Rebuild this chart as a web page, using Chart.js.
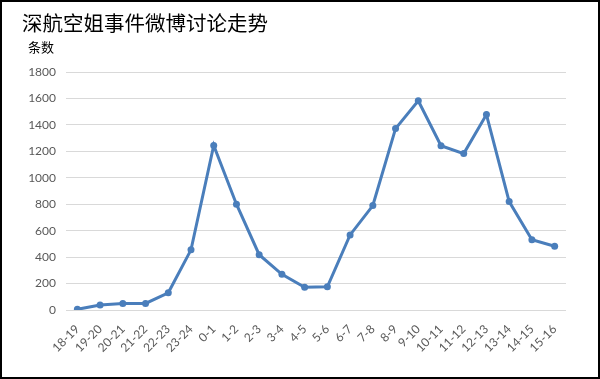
<!DOCTYPE html>
<html>
<head>
<meta charset="utf-8">
<script src="https://cdn.jsdelivr.net/npm/chart.js@4.4.0/dist/chart.umd.min.js"></script>
<style>
  html, body { margin: 0; padding: 0; background: #fff; }
  #wrap { width: 600px; height: 379px; box-sizing: border-box; border: 2px solid #000; position: relative; }
</style>
</head>
<body>
<div id="wrap"><canvas id="trendChart"></canvas></div>
<script>
'use strict';

var hours = ["18-19", "19-20", "20-21", "21-22", "22-23", "23-24", "0-1", "1-2", "2-3", "3-4", "4-5", "5-6",
             "6-7", "7-8", "8-9", "9-10", "10-11", "11-12", "12-13", "13-14", "14-15", "15-16"];
var counts = [5, 38, 50, 50, 130, 455, 1245, 800, 418, 270, 172, 176,
              568, 790, 1372, 1582, 1242, 1183, 1478, 820, 532, 482];
var yTicks = [0, 200, 400, 600, 800, 1000, 1200, 1400, 1600, 1800];

var titleText = '深航空姐事件微博讨论走势';
var unitText = '条数';
var lineBlue = '#4a7ebb';
var tickGrey = '#595959';

// title and unit label sit above the plot, drawn at fixed spots
var headerText = {
    id: 'headerText',
    afterDraw: function (chart) {
        var ctx = chart.ctx;
        ctx.save();
        ctx.fillStyle = '#000';
        ctx.textBaseline = 'middle';
        ctx.textAlign = 'left';
        ctx.font = '20.5px "Noto Sans CJK SC"';
        ctx.fillText(titleText, 20, 21);
        ctx.font = '13px "Noto Sans CJK SC"';
        ctx.fillText(unitText, 26, 45);
        ctx.restore();
    }
};

var trendChart = new Chart(document.getElementById('trendChart'), {
    type: 'line',
    data: {
        labels: hours,
        datasets: [{
            label: unitText,
            data: counts,
            borderColor: lineBlue,
            backgroundColor: lineBlue,
            borderWidth: 3,
            pointRadius: 3.5,
            pointBorderWidth: 0,
            tension: 0
        }]
    },
    options: {
        responsive: true,
        maintainAspectRatio: false,
        animation: false,
        layout: { padding: { left: 0, top: 70, right: 32, bottom: 0 } },
        plugins: {
            legend: { display: false },
            title: { display: false },
            tooltip: { enabled: false }
        },
        scales: {
            x: {
                offset: true,
                grid: { display: false },
                border: { display: false },
                ticks: {
                    color: tickGrey,
                    font: { family: 'Lato', size: 12 },
                    minRotation: 45,
                    maxRotation: 45,
                    autoSkip: false,
                    padding: 4
                },
                afterFit: function (scale) { scale.height = 67; }
            },
            y: {
                min: 0,
                max: 1800,
                afterBuildTicks: function (scale) {
                    scale.ticks = yTicks.map(function (v) { return { value: v }; });
                },
                grid: { color: '#d9d9d9', drawTicks: false },
                border: { display: false },
                ticks: {
                    color: tickGrey,
                    font: { family: 'Lato', size: 12 },
                    padding: 10,
                    callback: function (v) { return String(v); }
                },
                afterFit: function (scale) { scale.width = 64; }
            }
        }
    },
    plugins: [headerText]
});
</script>
</body>
</html>
